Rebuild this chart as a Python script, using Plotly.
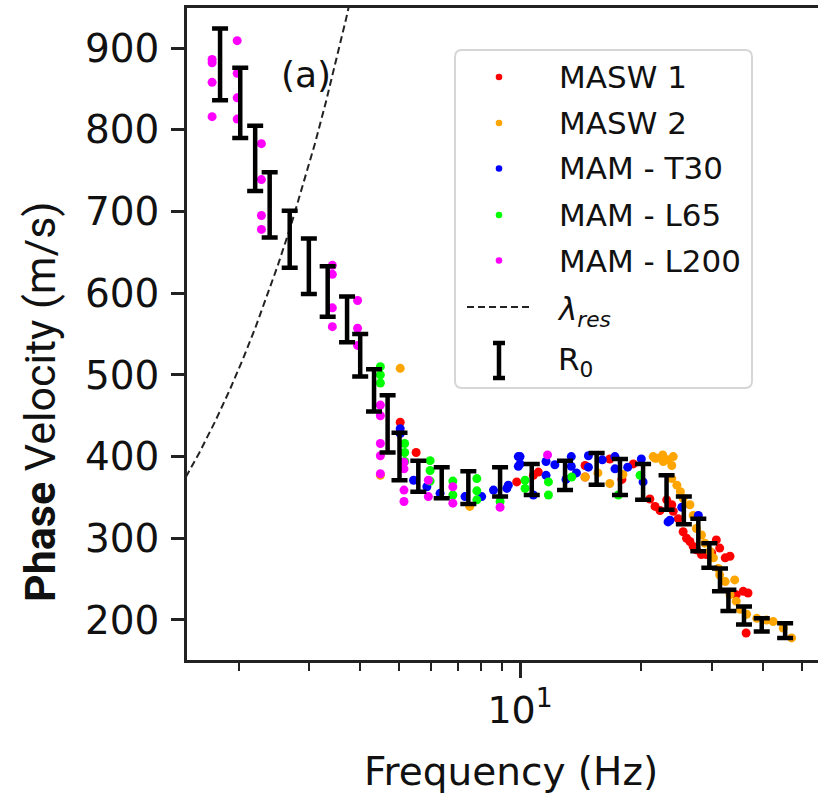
import plotly.graph_objects as go
import math

# ---------------- data ----------------
masw1_f = [5.04, 5.52, 9.81, 10.79, 11.1, 14.5, 14.5, 16.7, 17.9, 19.1, 21.0,
           21.63, 22.25, 23.12, 23.8, 24.0, 24.7, 25.4, 25.9, 26.4, 26.9, 27.4,
           28.2, 29.0, 29.9, 30.7, 31.3, 32.3, 33.2, 34.4, 35.8, 36.8, 36.4]
masw1_v = [442, 405, 369, 377, 381, 389, 375, 397, 372, 391, 348,
           339, 334, 347, 341, 333, 324, 308, 300, 296, 290, 286,
           280, 280, 282, 298, 288, 276, 278, 231, 235, 233, 184]

masw2_f = [5.04, 4.50, 7.50, 14.5, 15.6, 16.7, 18.0, 21.4, 21.6, 21.85, 22.6,
           22.67, 23.3, 23.8, 23.8, 24.0, 24.5, 25.0, 25.4, 26.4, 26.9, 27.4,
           28.2, 28.75, 29.6, 30.2, 31.05, 31.3, 32.3, 33.2, 34.1, 34.4, 35.2,
           36.5, 38.7, 40.9, 42.5, 45.0, 47.2]
masw2_v = [508, 377, 339, 375, 380, 367, 378, 400, 398, 398, 402,
           394, 396, 389, 373, 400, 365, 357, 349, 341, 328, 312,
           304, 294, 284, 276, 263, 255, 247, 231, 249, 223, 213,
           207, 202, 200, 198, 190, 178]

t30_f = [5.04, 5.04, 5.44, 5.87, 6.33, 7.30, 8.03, 8.59, 9.27, 9.35, 9.90, 9.90,
         10.0, 10.0, 10.79, 11.6, 11.6, 12.2, 13.0, 13.4, 13.4, 13.8, 14.78, 14.78,
         16.0, 17.2, 17.2, 18.5, 20.0, 20.2, 23.3, 23.56, 25.2, 27.7]
t30_v = [434, 428, 371, 363, 355, 351, 351, 359, 361, 365, 400, 388,
         400, 391, 353, 394, 377, 390, 372, 400, 388, 380, 401, 387,
         396, 400, 385, 387, 397, 369, 320, 322, 338, 328]

l65_f = [4.50, 4.50, 4.50, 5.17, 5.17, 5.17, 5.98, 5.98, 5.98, 6.81, 6.81,
         7.81, 7.81, 7.81, 8.92, 10.29, 10.29, 11.76, 11.76, 13.43, 17.54, 19.85]
l65_v = [510, 500, 490, 416, 405, 394, 395, 383, 370, 370, 353,
         373, 358, 347, 345, 371, 361, 369, 353, 375, 353, 377]

l200_f = [1.72, 1.72, 1.72, 1.72, 1.985, 1.985, 1.985, 1.985, 2.28, 2.28, 2.28, 2.28,
          3.42, 3.42, 3.42, 3.42, 3.95, 3.95, 3.95, 4.50, 4.50, 4.50, 4.50, 4.50,
          5.15, 5.15, 5.15, 5.15, 5.92, 5.92, 6.81, 6.81, 8.92, 11.7]
l200_v = [886, 882, 858, 816, 909, 869, 839, 813, 783, 739, 695, 678,
          634, 623, 582, 559, 591, 557, 536, 463, 450, 416, 401, 379,
          393, 385, 359, 345, 371, 351, 363, 343, 338, 402]

r0_f = [1.80, 2.02, 2.20, 2.39, 2.68, 2.99, 3.33, 3.72, 4.01, 4.34, 4.69, 5.02,
        5.59, 6.39, 7.44, 8.92, 10.69, 12.93, 15.49, 17.70, 20.2, 23.1, 25.5,
        27.7, 29.5, 31.35, 32.9, 35.96, 39.8, 45.5]
r0_v = [880, 833, 765, 708, 666, 633, 602, 568, 524, 481, 440, 400,
        376, 368, 362, 369, 372, 377, 385, 375, 369, 356, 334,
        304, 279, 249, 224, 205.5, 194, 187]
r0_err = [44, 43, 40, 40, 35, 34, 31, 28, 26, 26, 35, 29,
          19, 19, 20, 18, 19, 18, 19.5, 22, 22, 21, 17,
          20, 15, 14, 13, 11, 8, 9]

# resolution-limit curve (lambda_res)
lam_f = [1.30, 1.45, 1.60, 1.75, 1.90, 2.05, 2.20, 2.35, 2.50, 2.70, 2.90,
         3.10, 3.30, 3.50, 3.70, 3.90, 4.10]
lam_v = [329, 367, 405, 443, 481, 519, 557, 595, 633, 683, 734,
         784, 835, 886, 936, 987, 1037]

series_names = ["MASW 1", "MASW 2", "MAM - T30", "MAM - L65", "MAM - L200"]
series_colors = ["#ff0000", "#ffa500", "#0000ff", "#00ff00", "#ff00ff"]
yticks = [200, 300, 400, 500, 600, 700, 800, 900]

# ---------------- layout helpers ----------------
W, H = 818, 796
PL, PR, PT, PB = 187, 818, 8, 660


def px(x):
    return (x - PL) / (PR - PL)


def py(y):
    return (PB - y) / (PB - PT)


FONT = "DejaVu Sans"
fig = go.Figure()

series = [(masw1_f, masw1_v), (masw2_f, masw2_v), (t30_f, t30_v),
          (l65_f, l65_v), (l200_f, l200_v)]
for (fx, vy), name, col in zip(series, series_names, series_colors):
    fig.add_trace(go.Scatter(x=fx, y=vy, mode="markers", name=name,
                             marker=dict(size=9, color=col, line=dict(width=0)),
                             showlegend=False))

fig.add_trace(go.Scatter(x=lam_f, y=lam_v, mode="lines", name="λres",
                         line=dict(color="#222222", width=2, dash="7px,4px"),
                         showlegend=False))

fig.add_trace(go.Scatter(x=r0_f, y=r0_v, mode="markers", name="R0",
                         marker=dict(size=1, color="rgba(0,0,0,0)"),
                         error_y=dict(type="data", array=r0_err, visible=True,
                                      color="black", thickness=4.5, width=8),
                         showlegend=False))

# ---------------- manual legend ----------------
shapes = []
annotations = []

bx0, bx1, by0, by1, rad = 455, 752, 50, 388, 7


def P(x, y):
    return f"{px(x):.5f},{py(y):.5f}"


box_path = (f"M {P(bx0+rad, by0)} L {P(bx1-rad, by0)} Q {P(bx1, by0)} {P(bx1, by0+rad)} "
            f"L {P(bx1, by1-rad)} Q {P(bx1, by1)} {P(bx1-rad, by1)} "
            f"L {P(bx0+rad, by1)} Q {P(bx0, by1)} {P(bx0, by1-rad)} "
            f"L {P(bx0, by0+rad)} Q {P(bx0, by0)} {P(bx0+rad, by0)} Z")
shapes.append(dict(type="path", xref="paper", yref="paper", path=box_path,
                   line=dict(color="#d6d6d6", width=2), fillcolor="rgba(255,255,255,0.85)",
                   layer="above"))

item_y = [77, 123, 168.5, 215, 260.5]
mx = 499
for yy, col in zip(item_y, series_colors):
    r = 3.3
    shapes.append(dict(type="circle", xref="paper", yref="paper",
                       x0=px(mx - r), x1=px(mx + r), y0=py(yy + r), y1=py(yy - r),
                       fillcolor=col, line=dict(width=0), layer="above"))
for yy, name in zip(item_y, series_names):
    annotations.append(dict(text=name, x=px(557), y=py(yy), xref="paper", yref="paper",
                            xanchor="left", yanchor="middle", showarrow=False,
                            font=dict(family=FONT, size=31, color="#111111")))

# lambda_res entry
shapes.append(dict(type="line", xref="paper", yref="paper",
                   x0=px(467), x1=px(530), y0=py(307), y1=py(307),
                   line=dict(color="#222222", width=2, dash="7px,4px"), layer="above"))
annotations.append(dict(text="<i>λ</i><sub><i>res</i></sub>", x=px(555), y=py(311),
                        xref="paper", yref="paper", xanchor="left", yanchor="middle",
                        showarrow=False, font=dict(family=FONT, size=31, color="#111111")))
# R0 entry
iy0, iy1, icx, icw = 343, 378, 499, 6
ibeam = (f"M {P(icx, iy0)} L {P(icx, iy1)} M {P(icx-icw, iy0)} L {P(icx+icw, iy0)} "
         f"M {P(icx-icw, iy1)} L {P(icx+icw, iy1)}")
shapes.append(dict(type="path", xref="paper", yref="paper", path=ibeam,
                   line=dict(color="black", width=4.5), layer="above"))
annotations.append(dict(text="R<sub>0</sub>", x=px(556), y=py(361), xref="paper", yref="paper",
                        xanchor="left", yanchor="middle", showarrow=False,
                        font=dict(family=FONT, size=31, color="#111111")))

# panel label
annotations.append(dict(text="(a)", x=px(306), y=py(75), xref="paper", yref="paper",
                        xanchor="center", yanchor="middle", showarrow=False,
                        font=dict(family=FONT, size=36, color="#111111")))
# axis titles
annotations.append(dict(text="Frequency (Hz)", x=px(511), y=py(771), xref="paper", yref="paper",
                        xanchor="center", yanchor="middle", showarrow=False,
                        font=dict(family=FONT, size=39, color="#111111")))
annotations.append(dict(text="<b>Phase</b> Velocity (m/s)", x=px(40), y=py(402),
                        xref="paper", yref="paper", xanchor="center", yanchor="middle",
                        textangle=-90, showarrow=False,
                        font=dict(family="Roboto", size=43, color="#111111")))

fig.update_layout(
    width=W, height=H,
    margin=dict(l=PL, r=W - PR, t=PT, b=H - PB),
    paper_bgcolor="white", plot_bgcolor="white",
    showlegend=False,
    shapes=shapes, annotations=annotations,
    xaxis=dict(type="log", range=[math.log10(1.49), math.log10(54.9)],
               showline=True, linecolor="#222222", linewidth=2.5, mirror=True,
               showgrid=False, zeroline=False,
               tickmode="array", tickvals=[10], ticktext=["10<sup>1</sup>"],
               ticks="outside", ticklen=15, tickwidth=2.5, tickcolor="#222222",
               tickfont=dict(family=FONT, size=38, color="#111111"),
               minor=dict(tickmode="array", tickvals=[2, 3, 4, 5, 6, 7, 8, 9, 20, 30, 40, 50],
                          ticks="outside", ticklen=8, tickwidth=2, tickcolor="#222222",
                          showgrid=False)),
    yaxis=dict(range=[151, 949], showline=True, linecolor="#222222", linewidth=2.5,
               mirror=False, showgrid=False, zeroline=False,
               tickmode="array", tickvals=yticks,
               ticks="outside", ticklen=13, tickwidth=2.5, tickcolor="#222222",
               tickfont=dict(family=FONT, size=39, color="#111111"),
               ticklabelstandoff=4),
)

fig.write_html("out.html")
